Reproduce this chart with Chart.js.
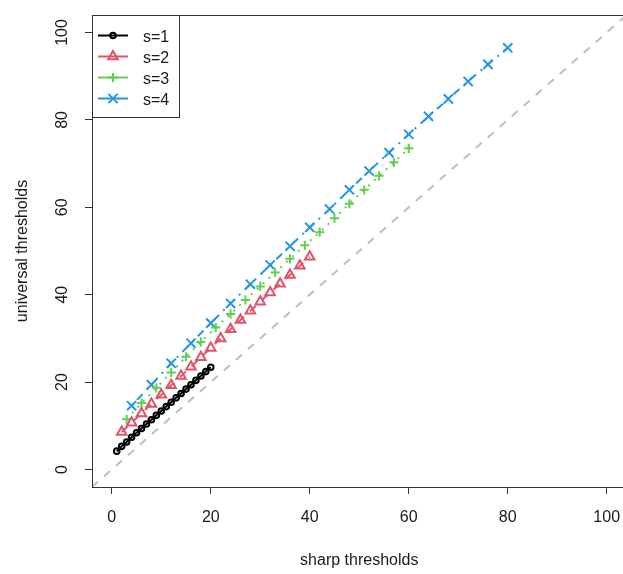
<!DOCTYPE html>
<html>
<head>
<meta charset="utf-8">
<script src="https://cdn.jsdelivr.net/npm/chart.js@4.4.1/dist/chart.umd.min.js"></script>
<style>
  html, body { margin: 0; padding: 0; overflow: hidden; background: #fff; }
  #clip { width: 623px; height: 574px; overflow: hidden; }
  #wrap { width: 635px; height: 574px; }
</style>
</head>
<body>
<div id="clip"><div id="wrap"><canvas id="thresholdChart" width="635" height="574"></canvas></div></div>
<script>
// sharp thresholds (x) and universal thresholds (y) for each s
const sharpS1 = [1, 2, 3, 4, 5, 6, 7, 8, 9, 10, 11, 12, 13, 14, 15, 16, 17, 18, 19, 20];
const universalS1 = [4.2, 5.3, 6.3, 7.4, 8.4, 9.4, 10.4, 11.4, 12.4, 13.4, 14.4, 15.4, 16.4, 17.4, 18.4, 19.4, 20.4, 21.4, 22.4, 23.4];

const sharpS2 = [2, 4, 6, 8, 10, 12, 14, 16, 18, 20, 22, 24, 26, 28, 30, 32, 34, 36, 38, 40];
const universalS2 = [8.6, 10.7, 12.8, 15.0, 17.1, 19.3, 21.4, 23.5, 25.7, 27.8, 30.0, 32.1, 34.2, 36.3, 38.4, 40.5, 42.5, 44.5, 46.6, 48.7];

const sharpS3 = [3, 6, 9, 12, 15, 18, 21, 24, 27, 30, 33, 36, 39, 42, 45, 48, 51, 54, 57, 60];
const universalS3 = [11.5, 15.2, 18.7, 22.2, 25.8, 29.2, 32.5, 35.6, 38.8, 41.9, 45.1, 48.2, 51.3, 54.3, 57.5, 60.8, 64.0, 67.2, 70.3, 73.5];

const sharpS4 = [4, 8, 12, 16, 20, 24, 28, 32, 36, 40, 44, 48, 52, 56, 60, 64, 68, 72, 76, 80];
const universalS4 = [14.6, 19.4, 24.3, 28.9, 33.5, 38.0, 42.4, 46.8, 51.1, 55.4, 59.6, 64.0, 68.3, 72.5, 76.7, 80.8, 84.8, 88.8, 92.7, 96.5];

// y = x reference line ends
const refLine = [-4, 104];

const seriesLabels = ['s=1', 's=2', 's=3', 's=4'];
const xTicks = [0, 20, 40, 60, 80, 100];
const yTicks = [0, 20, 40, 60, 80, 100];

const fontFamily = '"Liberation Sans", Arial, sans-serif';
const textColor = '#1a1a1a';

function pairs(xs, ys) {
    return xs.map((x, i) => ({ x: x, y: ys[i] }));
}

function series(label, xs, ys, color, style, radius, dash) {
    return {
        label: label,
        data: pairs(xs, ys),
        borderColor: color,
        borderWidth: 2,
        borderDash: dash,
        pointStyle: style,
        pointRadius: radius,
        pointBorderWidth: 2,
        pointBorderColor: color,
        pointBackgroundColor: 'rgba(0,0,0,0)',
        fill: false,
        tension: 0
    };
}

const datasets = [
    series(seriesLabels[0], sharpS1, universalS1, '#000000', 'circle', 2.8, []),
    series(seriesLabels[1], sharpS2, universalS2, '#DF536B', 'triangle', 5.5, [8, 8]),
    series(seriesLabels[2], sharpS3, universalS3, '#61D04F', 'cross', 4.6, [2, 6]),
    series(seriesLabels[3], sharpS4, universalS4, '#2297E6', 'crossRot', 6.5, [2, 6, 8, 6]),
    {
        label: 'y=x',
        data: pairs(refLine, refLine),
        borderColor: '#BEBEBE',
        borderWidth: 2,
        borderDash: [8, 8],
        pointRadius: 0,
        fill: false
    }
];

// box, rotated y labels and the legend, drawn the way R does it
const rStylePlugin = {
    id: 'rStyle',
    afterDraw(chart) {
        const ctx = chart.ctx;
        const a = chart.chartArea;
        const yScale = chart.scales.y;
        ctx.save();

        ctx.strokeStyle = '#333';
        ctx.lineWidth = 1;
        ctx.setLineDash([]);
        ctx.strokeRect(a.left + 0.5, a.top + 0.5, a.right - a.left, a.bottom - a.top);

        ctx.fillStyle = textColor;
        ctx.font = '16px ' + fontFamily;
        ctx.textAlign = 'center';
        ctx.textBaseline = 'middle';
        yTicks.forEach(v => {
            const py = yScale.getPixelForValue(v);
            ctx.save();
            ctx.translate(63, py);
            ctx.rotate(-Math.PI / 2);
            ctx.fillText(String(v), 0, 0);
            ctx.restore();
        });

        // legend
        const lx = a.left, ly = a.top;
        ctx.fillStyle = '#fff';
        ctx.fillRect(lx + 0.5, ly + 0.5, 87, 102);
        ctx.strokeStyle = '#333';
        ctx.strokeRect(lx + 0.5, ly + 0.5, 87, 102);
        for (let i = 0; i < 4; i++) {
            const ds = chart.data.datasets[i];
            const ry = ly + 20.5 + i * 21;
            ctx.strokeStyle = ds.borderColor;
            ctx.lineWidth = 2;
            ctx.setLineDash([]);
            ctx.beginPath();
            ctx.moveTo(lx + 6, ry);
            ctx.lineTo(lx + 36, ry);
            ctx.stroke();
            if (Chart.helpers && Chart.helpers.drawPoint) {
                ctx.fillStyle = 'rgba(0,0,0,0)';
                Chart.helpers.drawPoint(ctx, {
                    pointStyle: ds.pointStyle,
                    radius: ds.pointRadius,
                    borderWidth: 2,
                    rotation: 0
                }, lx + 21, ry);
            }
            ctx.fillStyle = textColor;
            ctx.textAlign = 'left';
            ctx.textBaseline = 'middle';
            ctx.fillText(ds.label, lx + 51, ry + 2);
        }
        ctx.restore();
    }
};

const tickGrid = {
    drawOnChartArea: false,
    drawTicks: true,
    tickLength: 7,
    color: '#333',
    lineWidth: 1
};

const ctx = document.getElementById('thresholdChart').getContext('2d');

const config = {
    type: 'line',
    data: { datasets: datasets },
    options: {
        responsive: false,
        animation: false,
        devicePixelRatio: 1,
        // canvas is wider than the window so the box runs past the right edge
        layout: { padding: { left: 0, top: 15, right: 0, bottom: 0 } },
        scales: {
            x: {
                type: 'linear',
                min: -4,
                max: 104,
                afterBuildTicks: s => { s.ticks = xTicks.map(v => ({ value: v })); },
                afterFit: s => { s.height = 87; },
                grid: tickGrid,
                border: { display: false },
                ticks: {
                    color: textColor,
                    font: { size: 16, family: fontFamily },
                    padding: 14,
                    maxRotation: 0
                },
                title: {
                    display: true,
                    text: 'sharp thresholds',
                    color: textColor,
                    font: { size: 16, family: fontFamily },
                    padding: { top: 0, bottom: 4 }
                }
            },
            y: {
                type: 'linear',
                min: -4,
                max: 104,
                afterBuildTicks: s => { s.ticks = yTicks.map(v => ({ value: v })); },
                afterFit: s => { s.width = 92; },
                grid: tickGrid,
                border: { display: false },
                ticks: {
                    color: 'rgba(0,0,0,0)',
                    font: { size: 16, family: fontFamily }
                },
                title: {
                    display: true,
                    text: 'universal thresholds',
                    color: textColor,
                    font: { size: 16, family: fontFamily },
                    padding: { top: 13, bottom: 0 }
                }
            }
        },
        plugins: {
            legend: { display: false },
            tooltip: { enabled: false }
        }
    },
    plugins: [rStylePlugin]
};

const thresholdChart = new Chart(ctx, config);
</script>
</body>
</html>
